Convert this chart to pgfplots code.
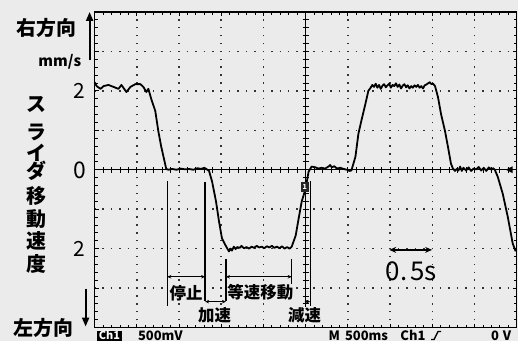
\documentclass[border=0pt]{standalone}
\usepackage{fontspec}
\setmainfont{Noto Sans CJK JP}
\usepackage{pgfplots}
\pgfplotsset{compat=1.18}
\usetikzlibrary{arrows.meta}
\definecolor{bg}{gray}{0.92}
\begin{document}
\begin{tikzpicture}
\fill[bg] (0,0) rectangle (520pt,343pt);
\begin{axis}[at={(95pt,14pt)}, anchor=south west, scale only axis,
  width=424pt, height=317pt,
  xmin=0, xmax=5, ymin=-4, ymax=4,
  xtick={0,0.5,...,5}, ytick={-4,-3,...,4},
  minor x tick num=4, minor y tick num=4,
  xticklabels={}, yticklabels={},
  tick align=inside, major tick length=4pt, minor tick length=3pt,
  tick style={black, line width=0.8pt},
  grid=major,
  x grid style={black!80, line width=1.5pt, dash pattern=on 1.5pt off 6.425pt, dash phase=0.75pt},
  y grid style={black!80, line width=1.5pt, dash pattern=on 1.5pt off 6.98pt, dash phase=0.75pt},
  axis line style={black, line width=1.6pt},
  clip=false]
\addplot[black, line width=1.8pt, line join=round] coordinates {
(0,2.22) (0.024,2.12) (0.071,2.05) (0.106,2.12) (0.165,2.15) (0.224,2.10)
(0.283,2.05) (0.318,2.15) (0.377,1.97) (0.425,2.10) (0.483,2.17) (0.542,2.17)
(0.578,2.10) (0.613,1.97) (0.637,2.05) (0.672,1.79) (0.719,1.49) (0.755,0.98)
(0.790,0.58) (0.849,0.02) (0.873,0) (0.92,0.02) (0.97,0) (1.02,0.03) (1.07,0.01)
(1.12,0.02) (1.17,0) (1.22,0.04) (1.26,0.02) (1.30,0.05) (1.33,0.01) (1.356,-0.03)
(1.392,-0.30) (1.439,-0.81) (1.474,-1.31) (1.509,-1.74) (1.557,-1.94) (1.592,-2.07)
(1.61,-2.00) (1.627,-2.05) (1.65,-1.95) (1.67,-2.01) (1.69,-1.96) (1.72,-1.98)
(1.74,-1.93) (1.77,-1.99) (1.80,-1.96) (1.83,-2.00) (1.86,-1.95) (1.89,-1.98)
(1.92,-1.93) (1.95,-1.97) (1.98,-1.95) (2.01,-1.99) (2.04,-1.94) (2.07,-1.97)
(2.10,-1.93) (2.13,-1.98) (2.16,-1.95) (2.19,-1.99) (2.22,-1.94) (2.25,-2.00)
(2.28,-1.96) (2.31,-2.00) (2.335,-1.95) (2.382,-1.67) (2.417,-1.24) (2.453,-0.81)
(2.500,-0.48) (2.535,-0.05) (2.571,0.08) (2.618,0.06) (2.65,0.03) (2.69,0.05)
(2.73,0.03) (2.77,0.08) (2.79,0.12) (2.81,0.06) (2.84,0.09) (2.87,0.03) (2.91,0.05)
(2.95,0.02) (2.99,0.00) (3.02,-0.03) (3.042,-0.02) (3.090,0.33) (3.125,0.91)
(3.160,1.24) (3.208,1.67) (3.243,2.00) (3.267,2.07) (3.29,2.15) (3.31,2.10)
(3.33,2.18) (3.35,2.08) (3.37,2.15) (3.39,2.05) (3.41,2.13) (3.43,2.17) (3.45,2.09)
(3.47,2.14) (3.49,2.18) (3.51,2.08) (3.53,2.15) (3.55,2.12) (3.57,2.19) (3.59,2.10)
(3.61,2.16) (3.63,2.06) (3.65,2.13) (3.67,2.17) (3.69,2.09) (3.71,2.14) (3.73,2.06)
(3.75,2.12) (3.77,2.08) (3.79,2.14) (3.81,2.10) (3.83,2.15) (3.85,2.08) (3.87,2.12)
(3.89,2.06) (3.91,2.14) (3.93,2.16) (3.95,2.19) (3.97,2.22) (3.99,2.17) (4.01,2.18)
(4.033,2.12) (4.068,1.84) (4.104,1.41) (4.151,0.98) (4.186,0.58) (4.222,0.15)
(4.245,0.03) (4.27,-0.03) (4.29,0.02) (4.31,-0.02) (4.33,0.08) (4.35,-0.03)
(4.37,0.05) (4.40,-0.02) (4.43,0.06) (4.46,-0.03) (4.49,0.03) (4.52,0.01) (4.55,0.07)
(4.58,-0.02) (4.61,0.05) (4.64,-0.03) (4.67,0.06) (4.70,0.00) (4.72,0.04) (4.741,0)
(4.776,-0.18) (4.835,-0.61) (4.894,-1.19) (4.953,-1.87) (4.988,-2.07)
};
\end{axis}
\begin{scope}[x=1pt,y=1pt]
% centre cross
\draw[black, line width=1.2pt] (95,172.5) -- (519,172.5);
\draw[black, line width=1.2pt] (307,14) -- (307,331);
\foreach \i in {0,...,50} \draw[black, line width=0.8pt] (95+\i*8.48,169.5) -- ++(0,6);
\foreach \i in {0,...,40} \draw[black, line width=0.8pt] (304,14+\i*7.925) -- ++(6,0);
% trigger marker
\fill[black] (508,172.5) -- (515,176) -- (515,169) -- cycle;
\fill[black!85] (302,150) rectangle (310,160);
\node[white, font=\fontsize{7}{7}\selectfont\bfseries] at (306,155) {1};
% annotations
\begin{scope}[line width=1.2pt, black]
\draw (168,161) -- (168,36);
\draw (206,160) -- (206,41);
\draw (227,83) -- (227,41);
\draw (293,83) -- (293,45);
\draw (311.5,161) -- (311.5,36);
\end{scope}
\begin{scope}[line width=0.9pt, black, {Stealth[length=4pt,width=3.5pt]}-{Stealth[length=4pt,width=3.5pt]}]
\draw (168,65) -- (206,65);
\draw (206,40) -- (227,40);
\draw (227,65) -- (293,65);
\draw (306,40) -- (311.5,40);
\end{scope}
\begin{scope}[font=\fontsize{16.5}{16.5}\selectfont\bfseries]
\node[fill=bg, inner sep=0.5pt] at (187,48.5) {停止};
\node[fill=bg, inner sep=0.5pt] at (215.5,26) {加速};
\node[fill=bg, inner sep=0.5pt] at (261.5,49) {等速移動};
\node[fill=bg, inner sep=0.5pt] at (306,26) {減速};
\end{scope}
% 0.5 s
\draw[line width=1.4pt, {Stealth[length=7pt,width=6pt]}-{Stealth[length=7pt,width=6pt]}] (391,92) -- (434,92);
\node[font=\fontsize{26}{26}\selectfont] at (413,71) {0.\hspace{3pt}5s};
% left labels
\begin{scope}[font=\fontsize{20}{20}\selectfont\bfseries]
\node at (47,315) {右方向};
\node at (44,14) {左方向};
\node at (37,238) {ス};
\node at (37,210) {ラ};
\node at (37,190) {イ};
\node at (37,171) {ダ};
\node at (37,146) {移};
\node at (37,123) {動};
\node at (37,101) {速};
\node at (37,78) {度};
\end{scope}
\node[font=\fontsize{15}{15}\selectfont\bfseries] at (60,281) {mm/s};
\node[font=\fontsize{21}{21}\selectfont] at (80,252) {2};
\node[font=\fontsize{23}{23}\selectfont] at (80,172) {0};
\node[font=\fontsize{21}{21}\selectfont] at (80,93) {2};
\draw[line width=2pt, -{Triangle[length=9pt,width=7pt]}] (90,283) -- (90,331);
\draw[line width=2pt, -{Triangle[length=9pt,width=7pt]}] (86,53) -- (86,15);
% bottom status bar
\fill[black] (97,0) rectangle (123,11);
\begin{scope}[font=\fontsize{13}{13}\selectfont\bfseries]
\node[white, anchor=base, inner sep=0pt] at (110,1.5) {\fontsize{11}{11}\selectfont Ch1};
\node[anchor=base, inner sep=0pt] at (161,1) {500mV};
\node[anchor=base west, inner sep=0pt] at (330,1) {M\hspace{5pt}500ms};
\node[anchor=base west, inner sep=0pt] at (402,1) {Ch1};
\node[anchor=base west, inner sep=0pt] at (493,1) {0\hspace{4pt}V};
\end{scope}
\draw[line width=1.3pt] (433,2) -- (436,2) -- (440,10) -- (443,10);
\end{scope}
\end{tikzpicture}
\end{document}
